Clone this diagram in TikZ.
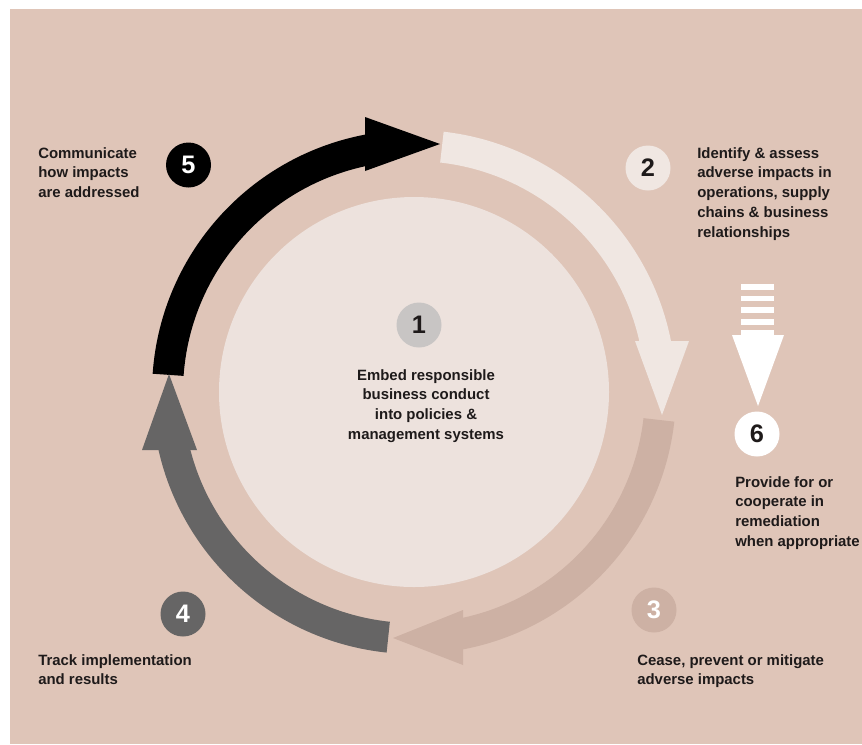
\documentclass[tikz,border=0pt]{standalone}
\usepackage{fontspec}
\setmainfont{Liberation Sans}
\definecolor{bg}{HTML}{DFC5B8}
\definecolor{innerc}{HTML}{EDE2DD}
\definecolor{atwo}{HTML}{F0E7E2}
\definecolor{athree}{HTML}{CDB1A4}
\definecolor{afour}{HTML}{666565}
\definecolor{cone}{HTML}{C8C5C4}
\definecolor{txt}{HTML}{1E1A1A}
\begin{document}
\begin{tikzpicture}[x=0.75pt,y=-0.75pt,
  lbl/.style={anchor=north west, inner sep=0pt, align=left, font=\fontsize{11.2}{14.8}\selectfont\bfseries, text=txt},
  num/.style={circle, inner sep=0pt, minimum size=33.75pt, font=\fontsize{19}{19}\selectfont\bfseries}]
\useasboundingbox (0,0) rectangle (862,744);
\fill[bg] (10,9) rectangle (862,744);
\coordinate (c) at (414,392);
\fill[innerc] (c) circle[radius=195];
% arrow 5 (black)
\fill[black] ([shift={(184:262)}]c) arc[start angle=184,end angle=262,radius=262]
  -- ([shift={(262:231)}]c) arc[start angle=262,end angle=184,radius=231] -- cycle;
\fill[black] (365,117) -- (440,144) -- (365,171) -- cycle;
% arrow 2 (light)
\fill[atwo] ([shift={(276.5:262)}]c) arc[start angle=276.5,end angle=349,radius=262]
  -- ([shift={(349:231)}]c) arc[start angle=349,end angle=276.5,radius=231] -- cycle;
\fill[atwo] (635,341) -- (689,341) -- (662,415) -- cycle;
% arrow 3 (tan)
\fill[athree] ([shift={(6.5:262)}]c) arc[start angle=6.5,end angle=80,radius=262]
  -- ([shift={(80:231)}]c) arc[start angle=80,end angle=6.5,radius=231] -- cycle;
\fill[athree] (463,610) -- (463,665) -- (393,638) -- cycle;
% arrow 4 (grey)
\fill[afour] ([shift={(96:262)}]c) arc[start angle=96,end angle=168,radius=262]
  -- ([shift={(168:231)}]c) arc[start angle=168,end angle=96,radius=231] -- cycle;
\fill[afour] (142,450) -- (197,450) -- (169,374) -- cycle;
% arrow 6 (white, striped)
\foreach \yy in {284,295.5,307,319}
  \fill[white] (741,\yy) rectangle (774,\yy+5.5);
\fill[white] (741,330) rectangle (774,336);
\fill[white] (732,335) -- (784,335) -- (758,406) -- cycle;
% number circles
\node[num, fill=cone, text=txt] (n1) at (419,325) {1};
\node[num, fill=atwo, text=txt] (n2) at (648,168) {2};
\node[num, fill=athree, text=white] (n3) at (654,610) {3};
\node[num, fill=afour, text=white] (n4) at (183,614) {4};
\node[num, fill=black, text=white] (n5) at (188.5,165) {5};
\node[num, fill=white, text=txt] (n6) at (757,434) {6};
% labels
\node[lbl] (t5) at (38,147) {Communicate\\how impacts\\are addressed};
\node[lbl] (t2) at (697,147) {Identify \& assess\\adverse impacts in\\operations, supply\\chains \& business\\relationships};
\node[lbl, anchor=north, align=center] (t1) at (426,369) {Embed responsible\\business conduct\\into policies \&\\management systems};
\node[lbl] (t6) at (735,476) {Provide for or\\cooperate in\\remediation\\when appropriate};
\node[lbl] (t3) at (637,654) {Cease, prevent or mitigate\\adverse impacts};
\node[lbl] (t4) at (38,654) {Track implementation\\and results};
\end{tikzpicture}
\end{document}
